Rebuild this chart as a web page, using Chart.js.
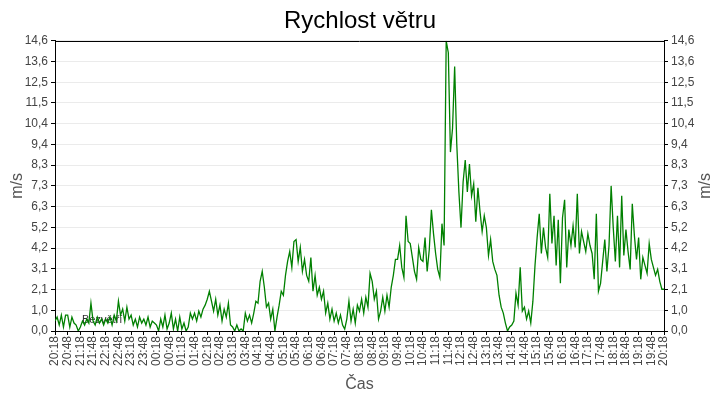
<!DOCTYPE html>
<html>
<head>
<meta charset="utf-8">
<script src="https://cdn.jsdelivr.net/npm/chart.js@4.4.1/dist/chart.umd.min.js"></script>
<style>
  html, body { margin: 0; padding: 0; background: #fff; }
  #wrap { width: 720px; height: 400px; }
</style>
</head>
<body>
<div id="wrap"><canvas id="windChart"></canvas></div>
<script>
// wind speed, one reading every 5 minutes from 20:18 to 20:18 next day
const stepMinutes = 5;
const windSpeed = [
  0.5, 0.7, 0.3, 0.8, 0.2, 0.8,   0.8, 0.2, 0.7, 0.4, 0.3, 0.0,
  0.2, 0.5, 0.3, 0.6, 0.4, 1.4,   0.5, 0.3, 0.7, 0.4, 0.6, 0.3,
  0.6, 0.4, 0.7, 0.3, 0.8, 0.5,   1.5, 0.8, 1.1, 0.5, 1.2, 0.6,
  0.8, 0.3, 0.6, 0.2, 0.7, 0.4,   0.6, 0.3, 0.7, 0.2, 0.5, 0.4,
  0.3, 0.0, 0.6, 0.2, 0.8, 0.1,   0.4, 0.9, 0.1, 0.6, 0.0, 0.7,
  0.1, 0.4, 0.0, 0.2, 0.9, 0.6,   0.9, 0.5, 1.0, 0.7, 1.1, 1.3,
  1.6, 2.0, 1.5, 1.0, 1.6, 0.8,   1.3, 0.5, 1.1, 0.7, 1.4, 0.3,
  0.2, 0.0, 0.3, 0.0, 0.1, 0.0,   0.9, 0.5, 0.8, 0.4, 0.9, 1.5,
  1.4, 2.5, 3.0, 2.2, 1.2, 1.4,   0.6, 1.1, 0.0, 0.7, 1.3, 2.0,
  1.8, 2.8, 3.5, 4.0, 3.2, 4.5,   4.6, 3.5, 4.2, 3.0, 3.6, 2.8,
  2.5, 3.7, 2.0, 2.8, 1.8, 2.2,   1.6, 2.0, 0.9, 1.4, 0.6, 1.1,
  0.5, 0.9, 0.4, 0.8, 0.3, 0.1,   0.6, 1.5, 0.5, 1.1, 0.4, 1.3,
  1.0, 1.6, 0.9, 1.7, 1.2, 2.9,   2.5, 1.6, 2.0, 0.6, 1.0, 1.7,
  1.0, 1.8, 1.2, 2.2, 2.8, 3.6,   3.6, 4.3, 3.2, 2.7, 5.8, 4.5,
  4.4, 3.7, 3.0, 2.6, 4.2, 3.6,   3.5, 4.7, 3.0, 4.1, 6.1, 4.9,
  3.9, 3.1, 2.7, 5.4, 4.3, 14.6,  14.0, 9.0, 10.2, 13.3, 9.4, 7.0,
  5.2, 7.5, 8.6, 7.0, 8.4, 6.8,   7.4, 5.5, 7.2, 6.0, 5.0, 5.8,
  5.2, 3.8, 4.6, 3.5, 3.1, 2.8,   1.8, 1.2, 0.9, 0.4, 0.0, 0.2,
  0.3, 0.5, 1.9, 1.3, 3.2, 1.0,   1.2, 0.6, 1.0, 0.4, 1.5, 3.3,
  4.7, 5.9, 3.9, 5.2, 4.2, 3.7,   6.9, 4.4, 5.8, 3.3, 5.6, 2.4,
  5.7, 6.6, 3.2, 5.1, 4.3, 5.3,   4.2, 6.9, 3.9, 5.0, 4.5, 4.0,
  4.9, 4.3, 3.9, 2.6, 5.9, 2.0,   2.4, 3.5, 4.6, 3.0, 4.3, 7.3,
  5.2, 3.5, 5.8, 3.2, 6.8, 3.8,   5.1, 4.0, 3.1, 6.4, 4.8, 3.6,
  4.7, 2.6, 3.7, 3.3, 2.9, 4.4,   3.6, 3.2, 2.8, 3.1, 2.5, 2.1,
  2.1
];

const xTickLabels = [
  '20:18', '20:48', '21:18', '21:48', '22:18', '22:48', '23:18', '23:48',
  '00:18', '00:48', '01:18', '01:48', '02:18', '02:48', '03:18', '03:48',
  '04:18', '04:48', '05:18', '05:48', '06:18', '06:48', '07:18', '07:48',
  '08:18', '08:48', '09:18', '09:48', '10:18', '10:48', '11:18', '11:48',
  '12:18', '12:48', '13:18', '13:48', '14:18', '14:48', '15:18', '15:48',
  '16:18', '16:48', '17:18', '17:48', '18:18', '18:48', '19:18', '19:48',
  '20:18'
];
const xTickEvery = 30;

const yTickLabels = ['0,0', '1,0', '2,1', '3,1', '4,2', '5,2', '6,3', '7,3',
  '8,3', '9,4', '10,4', '11,5', '12,5', '13,6', '14,6'];
const yMax = 14.6;
const yTitle = 'm/s';

const FONT = "'Liberation Sans', Arial, sans-serif";

const points = windSpeed.map((v, i) => ({ x: i * stepMinutes, y: v }));
const xMax = (xTickLabels.length - 1) * xTickEvery;

function setYTicks(axis) {
  axis.ticks = yTickLabels.map((l, i) => ({ value: i * yMax / (yTickLabels.length - 1) }));
}

const yTickOpts = {
  font: { family: FONT, size: 12 },
  color: '#444',
  padding: 3,
  callback: (v, i) => yTickLabels[i]
};

// top frame line, calm label, and both m/s titles (both read bottom-to-top)
const framePlugin = {
  id: 'frame',
  beforeDatasetsDraw(chart) {
    const ctx = chart.ctx;
    const a = chart.chartArea;
    ctx.save();
    ctx.font = '11px ' + FONT;
    ctx.fillStyle = '#333';
    ctx.textBaseline = 'middle';
    ctx.fillText('Bezvětří', a.left + 27, a.bottom - 11);
    ctx.restore();
  },
  afterDatasetsDraw(chart) {
    const ctx = chart.ctx;
    const a = chart.chartArea;
    ctx.save();
    ctx.strokeStyle = '#000';
    ctx.lineWidth = 1;
    ctx.beginPath();
    ctx.moveTo(a.left, Math.round(a.top) + 0.5);
    ctx.lineTo(a.right, Math.round(a.top) + 0.5);
    ctx.stroke();

    ctx.font = '16px ' + FONT;
    ctx.fillStyle = '#555';
    ctx.textAlign = 'center';
    ctx.textBaseline = 'middle';
    const midY = (a.top + a.bottom) / 2;
    [18, 706].forEach(x => {
      ctx.save();
      ctx.translate(x, midY);
      ctx.rotate(-Math.PI / 2);
      ctx.fillText(yTitle, 0, 0);
      ctx.restore();
    });
    ctx.restore();
  }
};

new Chart(document.getElementById('windChart'), {
  type: 'line',
  data: {
    datasets: [{
      label: 'Rychlost větru',
      data: points,
      borderColor: '#008000',
      borderWidth: 1.3,
      pointRadius: 0,
      tension: 0,
      fill: false
    }]
  },
  options: {
    responsive: true,
    maintainAspectRatio: false,
    animation: false,
    layout: { padding: 0 },
    plugins: {
      legend: { display: false },
      tooltip: { enabled: false },
      title: {
        display: true,
        text: 'Rychlost větru',
        color: '#000',
        font: { family: FONT, size: 24, weight: 'normal' },
        padding: { top: 7, bottom: 5 }
      }
    },
    scales: {
      x: {
        type: 'linear',
        position: 'bottom',
        min: 0,
        max: xMax,
        afterBuildTicks: axis => {
          axis.ticks = xTickLabels.map((l, i) => ({ value: i * xTickEvery }));
        },
        afterFit: scale => { scale.height = 69; },
        ticks: {
          autoSkip: false,
          minRotation: 90,
          maxRotation: 90,
          padding: 1,
          font: { family: FONT, size: 12 },
          color: '#444',
          callback: (v, i) => xTickLabels[i]
        },
        grid: { drawOnChartArea: false, tickLength: 4, tickColor: '#000' },
        border: { color: '#000', width: 1 },
        title: {
          display: true,
          text: 'Čas',
          color: '#555',
          font: { family: FONT, size: 16 },
          padding: { top: 0, bottom: 6 }
        }
      },
      y: {
        position: 'left',
        min: 0,
        max: yMax,
        afterBuildTicks: setYTicks,
        afterFit: scale => { scale.width = 55; },
        ticks: yTickOpts,
        grid: { color: '#ebebeb', tickLength: 4, tickColor: '#000' },
        border: { color: '#000', width: 1 }
      },
      y2: {
        position: 'right',
        min: 0,
        max: yMax,
        afterBuildTicks: setYTicks,
        afterFit: scale => { scale.width = 56; },
        ticks: yTickOpts,
        grid: { drawOnChartArea: false, tickLength: 4, tickColor: '#000' },
        border: { color: '#000', width: 1 }
      }
    }
  },
  plugins: [framePlugin]
});
</script>
</body>
</html>
